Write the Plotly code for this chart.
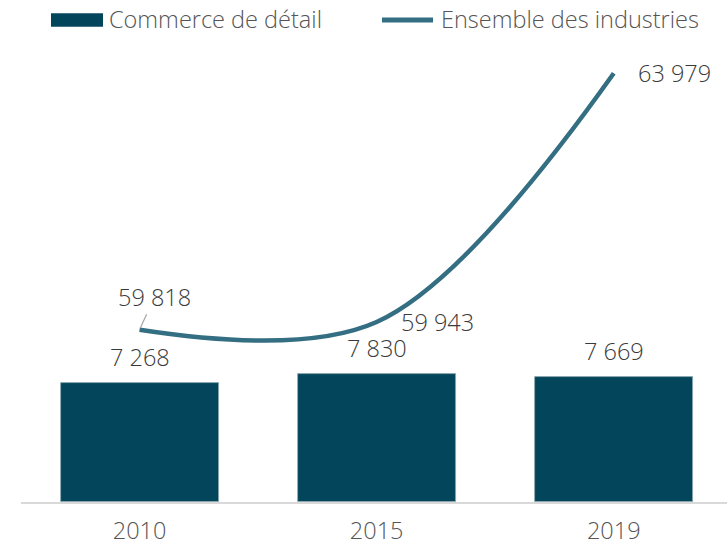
import plotly.graph_objects as go

# Données
annees = ["2010", "2015", "2019"]
commerce_detail = [7268, 7830, 7669]
ensemble_industries = [59818, 59943, 63979]
noms_series = ["Commerce de détail", "Ensemble des industries"]

COULEUR_BARRE = "#03465C"
COULEUR_LIGNE = "#336E82"
GRIS_TEXTE = "#3A3A3A"
GRIS_LEGENDE = "#555555"

FONT = "'Open Sans', sans-serif"
POIDS = 300

# Zone de tracé (pixels)
W, H = 727, 545
L, T, B = 21, 14, 42.5
PW, PH = W - L, H - T - B
BASE = H - B


def fmt(v):
    return f"{v:,}".replace(",", "\u00a0")


def px(x):
    return (x - L) / PW


def py(y):
    return (BASE - y) / PH


fig = go.Figure()

fig.add_trace(go.Bar(
    x=annees, y=commerce_detail, name=noms_series[0],
    marker=dict(color=COULEUR_BARRE, line=dict(color="#8FA9B3", width=0.8)),
    width=0.666, yaxis="y", showlegend=False, hoverinfo="skip",
))

fig.add_trace(go.Scatter(
    x=annees, y=ensemble_industries, name=noms_series[1], mode="lines",
    line=dict(color=COULEUR_LIGNE, width=4.5, shape="spline", smoothing=1),
    yaxis="y2", showlegend=False, hoverinfo="skip",
))

annotations = []
# Étiquettes des barres (x en indice de catégorie)
for i, v in enumerate(commerce_detail):
    annotations.append(dict(
        x=i, y=v, xref="x", yref="y", text=fmt(v), showarrow=False,
        yshift=26,
        font=dict(family=FONT, size=23.5, color=GRIS_TEXTE, weight=POIDS),
    ))

# Étiquettes de la courbe
label_offsets = [(15, -33, True), (61, 0, False), (61, 0, False)]
for i, (v, (dx, dy, arrow)) in enumerate(zip(ensemble_industries, label_offsets)):
    if arrow:
        annotations.append(dict(
            x=i, y=v, xref="x", yref="y2", text=fmt(v), showarrow=True,
            ax=dx, ay=dy, arrowhead=0, arrowwidth=1.2, arrowcolor="#A6A6A6",
            standoff=2,
            font=dict(family=FONT, size=23.5, color=GRIS_TEXTE, weight=POIDS),
        ))
    else:
        annotations.append(dict(
            x=i, y=v, xref="x", yref="y2", text=fmt(v), showarrow=False,
            xshift=dx, yshift=-dy,
            font=dict(family=FONT, size=23.5, color=GRIS_TEXTE, weight=POIDS),
        ))

# Légende
shapes = [
    dict(type="rect", xref="paper", yref="paper",
         x0=px(51), x1=px(103), y0=py(26.7), y1=py(13.3),
         fillcolor=COULEUR_BARRE, line=dict(width=0)),
    dict(type="line", xref="paper", yref="paper",
         x0=px(382), x1=px(433), y0=py(20), y1=py(20),
         line=dict(color=COULEUR_LIGNE, width=5)),
]
for tx, name in [(107, noms_series[0]), (439, noms_series[1])]:
    annotations.append(dict(
        x=px(tx), y=py(19), xref="paper", yref="paper",
        xanchor="left", yanchor="middle", text=name, showarrow=False,
        font=dict(family=FONT, size=23.5, color=GRIS_LEGENDE, weight=POIDS),
    ))

fig.update_layout(
    width=W, height=H,
    margin=dict(l=L, r=0, t=T, b=B, autoexpand=False),
    paper_bgcolor="white", plot_bgcolor="white",
    bargap=0,
    xaxis=dict(
        type="category", range=[-0.5, 2.4776], automargin=False,
        showgrid=False, zeroline=False,
        showline=True, linecolor="#D9D9D9", linewidth=1.5,
        ticks="outside", ticklen=7, tickcolor="rgba(0,0,0,0)",
        tickfont=dict(family=FONT, size=23.5, color=GRIS_LEGENDE, weight=POIDS),
    ),
    yaxis=dict(range=[0, 29920], visible=False, showgrid=False, zeroline=False),
    yaxis2=dict(range=[57022, 64941], overlaying="y", side="right",
                visible=False, showgrid=False, zeroline=False),
    shapes=shapes,
    annotations=annotations,
)

fig.write_html("out.html")
